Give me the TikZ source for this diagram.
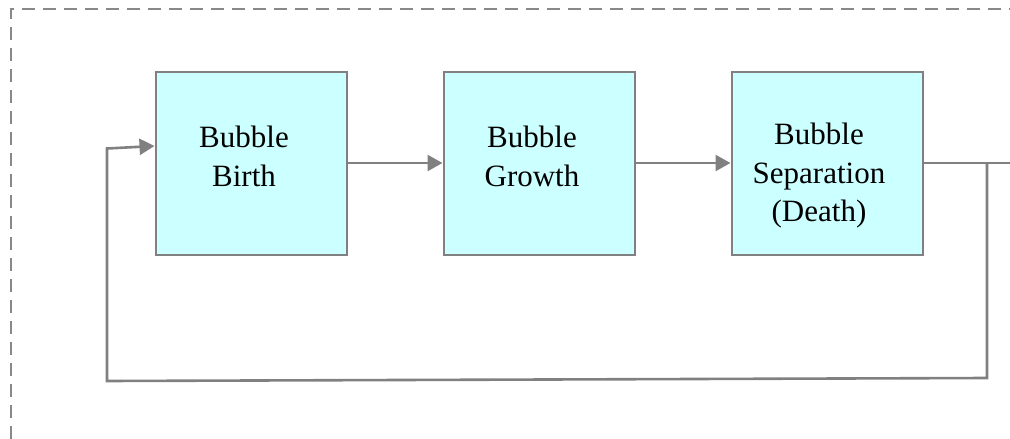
\documentclass[tikz,border=0pt]{standalone}
\usepackage{fontspec}
\setmainfont{Liberation Serif}
\usetikzlibrary{arrows.meta}
\definecolor{boxfill}{HTML}{CCFFFF}
\definecolor{linegray}{HTML}{808080}
\definecolor{dashgray}{HTML}{888888}
\begin{document}
\begin{tikzpicture}[x=1pt,y=-1pt,
  stage/.style={draw=linegray,line width=2pt,fill=boxfill,minimum width=191pt,minimum height=183pt,inner sep=0pt},
  label/.style={align=center,anchor=north,inner sep=0pt,font=\fontsize{31}{38.5}\selectfont},
  conn/.style={draw=linegray,line width=2.6pt},
  arr/.style={conn,-{Triangle[length=15pt,width=16pt]}},
  frame/.style={draw=dashgray,line width=2.2pt,dash pattern=on 13pt off 8pt}]
\useasboundingbox (0,0) rectangle (1010,439);
\draw[frame] (11,460) -- (11,9) -- (1030,9);
\node[stage] (b1) at (251,163) {};
\node[stage] (b2) at (539,163) {};
\node[stage] (b3) at (827,163) {};
\node[label] (t1) at (244,126) {Bubble\\Birth};
\node[label] (t2) at (532,126) {Bubble\\Growth};
\node[label] (t3) at (819,123) {Bubble\\Separation\\(Death)};
\draw[arr] (b1.east) -- (b2.west);
\draw[arr] (b2.east) -- (b3.west);
\coordinate (fbend) at (1015,163);
\coordinate (fbj) at (987,163);
\coordinate (fbbr) at (987,378);
\coordinate (fbbl) at (107,381);
\coordinate (fbtl) at (107,148.5);
\draw[conn] (b3.east) -- (fbend);
\draw[arr,line join=miter] (fbj) -- (fbbr) -- (fbbl) -- (fbtl) -- ([yshift=17pt]b1.west);
\end{tikzpicture}
\end{document}
